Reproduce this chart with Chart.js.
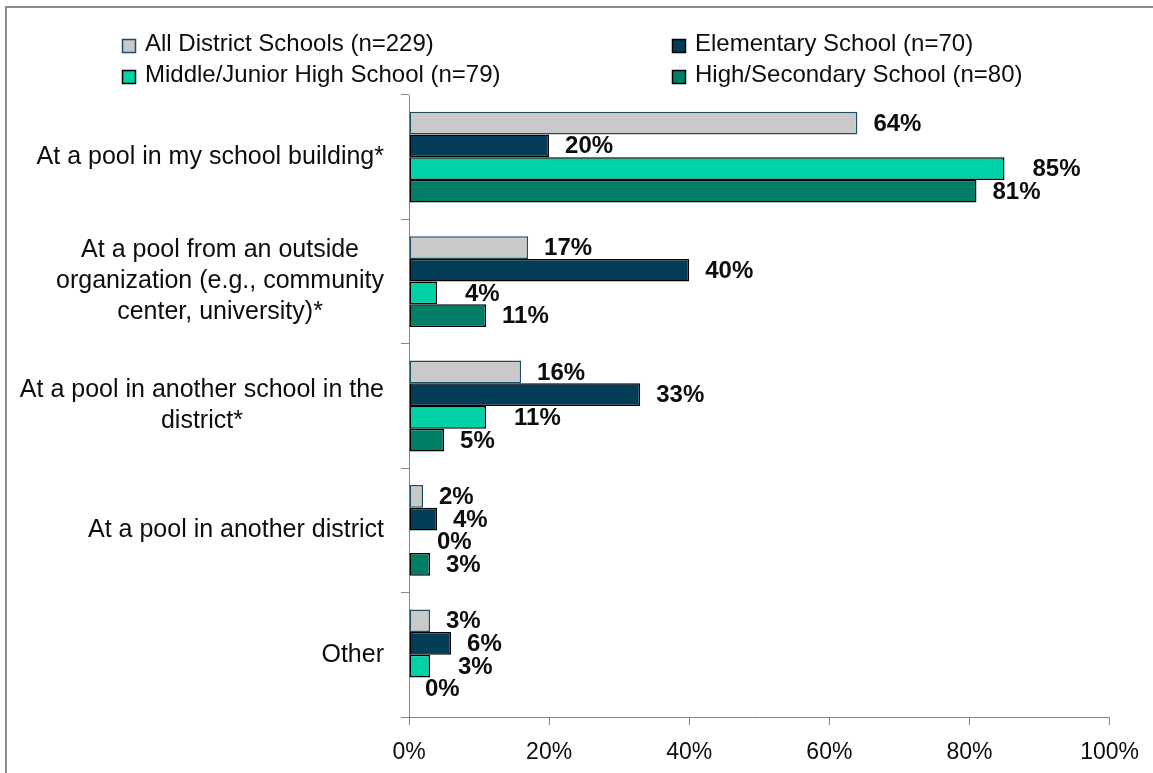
<!DOCTYPE html>
<html lang="en">
<head>
<meta charset="UTF-8">
<title>Pool location by school level</title>
<script src="https://cdn.jsdelivr.net/npm/chart.js"></script>
<style>
  html, body { margin: 0; padding: 0; background: #fff; overflow: hidden; }
  #marco { position: absolute; left: 5px; top: 6px; width: 1200px; height: 820px; border: 2px solid #8c8c8c; }
  #caja { position: absolute; left: 0; top: 0; width: 1153px; height: 773px; }
</style>
</head>
<body>
<div id="marco"></div>
<div id="caja"><canvas id="grafico" width="1153" height="773"></canvas></div>
<script>
// categories (one array of lines per label)
const categorias = [
  ['At a pool in my school building*'],
  ['At a pool from an outside', 'organization (e.g., community', 'center, university)*'],
  ['At a pool in another school in the', 'district*'],
  ['At a pool in another district'],
  ['Other']
];
const nombresSeries = [
  'All District Schools (n=229)',
  'Elementary School (n=70)',
  'Middle/Junior High School (n=79)',
  'High/Secondary School (n=80)'
];
// percent of schools
const todas      = [64, 17, 16, 2, 3];
const primaria   = [20, 40, 33, 4, 6];
const media      = [85, 4, 11, 0, 3];
const secundaria = [81, 11, 5, 3, 0];
const ticksX = [0, 20, 40, 60, 80, 100];

const FUENTE = '"Liberation Sans", Arial, sans-serif';

const leyenda = {
  id: 'leyenda',
  afterDraw(chart) {
    const ctx = chart.ctx;
    const cols = [122, 672];
    const filas = [51, 82];
    ctx.save();
    ctx.font = '24px ' + FUENTE;
    ctx.textBaseline = 'alphabetic';
    ctx.textAlign = 'left';
    chart.data.datasets.forEach((ds, i) => {
      const x = cols[i % 2];
      const y = filas[Math.floor(i / 2)];
      ctx.fillStyle = ds.backgroundColor;
      ctx.fillRect(x, y - 12, 14, 14);
      ctx.strokeStyle = ds.borderColor;
      ctx.lineWidth = 1.5;
      ctx.strokeRect(x + 0.5, y - 11.5, 13, 13);
      ctx.fillStyle = '#0d0d0d';
      ctx.fillText(ds.label, x + 23, y);
    });
    ctx.restore();
  }
};

const etiquetasY = {
  id: 'etiquetasY',
  afterDraw(chart) {
    const ctx = chart.ctx;
    const escala = chart.scales.y;
    const derecha = chart.chartArea.left - 25;
    ctx.save();
    ctx.font = '25px ' + FUENTE;
    ctx.fillStyle = '#0d0d0d';
    ctx.textAlign = 'center';
    ctx.textBaseline = 'middle';
    chart.data.labels.forEach((lineas, i) => {
      const yc = escala.getPixelForValue(i);
      const ancho = Math.max(...lineas.map(l => ctx.measureText(l).width));
      const xc = derecha - ancho / 2;
      lineas.forEach((l, k) => {
        ctx.fillText(l, xc, yc + (k - (lineas.length - 1) / 2) * 31);
      });
    });
    ctx.restore();
  }
};

const valores = {
  id: 'valores',
  afterDatasetsDraw(chart) {
    const ctx = chart.ctx;
    ctx.save();
    ctx.font = 'bold 24px ' + FUENTE;
    ctx.fillStyle = '#0d0d0d';
    ctx.textAlign = 'left';
    ctx.textBaseline = 'middle';
    chart.data.datasets.forEach((ds, i) => {
      chart.getDatasetMeta(i).data.forEach((barra, j) => {
        ctx.fillText(ds.data[j] + '%', barra.x + ds.separacion, barra.y + 1);
      });
    });
    ctx.restore();
  }
};

const gris = '#868686';

new Chart(document.getElementById('grafico'), {
  type: 'bar',
  data: {
    labels: categorias,
    datasets: [
      { label: nombresSeries[0], data: todas, backgroundColor: '#c9c9c9', borderColor: '#1f4e63', separacion: 16 },
      { label: nombresSeries[1], data: primaria, backgroundColor: '#023c56', borderColor: '#000000', separacion: 16 },
      { label: nombresSeries[2], data: media, backgroundColor: '#00d1a7', borderColor: '#000000', separacion: 28 },
      { label: nombresSeries[3], data: secundaria, backgroundColor: '#007f66', borderColor: '#000000', separacion: 16 }
    ]
  },
  options: {
    indexAxis: 'y',
    responsive: false,
    animation: false,
    devicePixelRatio: 1,
    datasets: {
      bar: { categoryPercentage: 0.73, barPercentage: 1, borderWidth: 1.5, borderSkipped: false }
    },
    layout: { padding: { top: 95, right: 41, bottom: 0, left: 0 } },
    plugins: {
      legend: { display: false },
      tooltip: { enabled: false }
    },
    scales: {
      x: {
        min: 0,
        max: 100,
        afterFit: s => { s.height = 56; },
        afterBuildTicks: s => { s.ticks = ticksX.map(v => ({ value: v })); },
        ticks: {
          callback: v => v + '%',
          color: '#0d0d0d',
          font: { family: FUENTE, size: 23 },
          padding: 14,
          maxRotation: 0
        },
        grid: { drawOnChartArea: false, tickLength: 8, color: gris },
        border: { color: gris, width: 1 }
      },
      y: {
        afterFit: s => { s.width = 409; },
        ticks: { display: false },
        grid: { drawOnChartArea: false, tickLength: 8, color: gris, offset: true },
        border: { color: gris, width: 1 }
      }
    }
  },
  plugins: [leyenda, etiquetasY, valores]
});
</script>
</body>
</html>
